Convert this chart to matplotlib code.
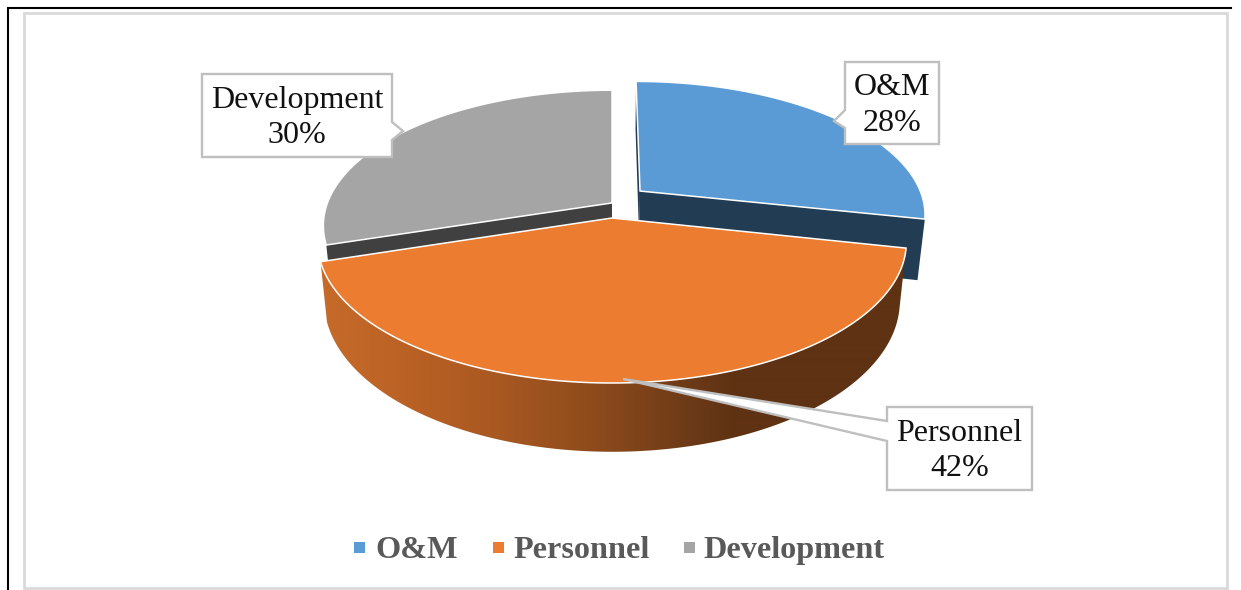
import numpy as np
import matplotlib
matplotlib.use("Agg")
import matplotlib.pyplot as plt
from matplotlib.colors import to_rgb
from matplotlib.patches import Polygon, Rectangle

# ---- data ----
categories = ["O&M", "Personnel", "Development"]
shares = [28.4, 41.7, 29.9]   # printed as 28%, 42%, 30%

# ---- style ----
top_colors = ["#5B9BD5", "#EB7C30", "#A5A5A5"]
side_colors = ["#223C54", "#5E3213", "#404040"]
explode = [(0.10, 0.204), (0.0, 0.0), (0.0, 0.112)]   # shift in the pie plane
CX, CY, RX, KY, PERSP, DEPTH, TAPER = 612, 218, 290, 136.8, 0.171, 57, 0.022
BOX_EDGE = "#BFBFBF"
SERIF = "Liberation Serif"

plt.rcParams["font.family"] = [SERIF, "DejaVu Serif"]
fig = plt.figure(figsize=(12.41, 5.90), dpi=100, facecolor="white")
ax = fig.add_axes([0, 0, 1, 1])


def project(theta_deg, radius, shift, z=0.0):
    """Pie-plane point (clockwise from 12 o'clock) to screen coordinates."""
    t = np.radians(theta_deg)
    X = radius * np.sin(t) + shift[0]
    Y = radius * np.cos(t) + shift[1]
    den = 1 + PERSP * Y
    return np.column_stack((CX + RX * X / den * (1 - TAPER * z),
                            CY - KY * Y / den + DEPTH * z / den))


def arc(a, b, shift, z=0.0, n=160):
    return project(np.linspace(a, b, n), np.ones(n), shift, z)


def apex(shift, z=0.0):
    return project(np.array([0.0]), np.zeros(1), shift, z)


cum = np.concatenate(([0], np.cumsum(shares))) / np.sum(shares) * 360
spans = list(zip(cum[:-1], cum[1:]))


def radial_face(angle, shift, color, zo, z=1.0):
    p = np.vstack((apex(shift), project(np.array([angle]), np.ones(1), shift),
                   project(np.array([angle]), np.ones(1), shift, z), apex(shift, z)))
    ax.add_patch(Polygon(p, closed=True, fc=color, ec="none", zorder=zo))


def top_face(i, zo):
    a, b = spans[i]
    p = np.vstack((apex(explode[i]), arc(a, b, explode[i])))
    ax.add_patch(Polygon(p, closed=True, fc=top_colors[i], ec="white", lw=1.1,
                         joinstyle="miter", zorder=zo))


# Personnel rim: horizontal shading clipped to the rim outline
grad_x = [320, 420, 500, 600, 680, 735, 910]
grad_hex = ["#C66B2A", "#B86024", "#A85821", "#8C4A1C", "#703C18", "#5E3213", "#5E3213"]
grad_rgb = np.array([to_rgb(c) for c in grad_hex])
xs = np.linspace(315, 915, 600)
strip = np.stack([np.interp(xs, grad_x, grad_rgb[:, k]) for k in range(3)], axis=-1)[None, :, :]
a, b = spans[1]
rim_outline = np.vstack((arc(a, b, explode[1], 0, 260), arc(a, b, explode[1], 1, 260)[::-1]))
rim_patch = Polygon(rim_outline, closed=True, fc="none", ec="none", transform=ax.transData)
ax.add_patch(rim_patch)
rim_img = ax.imshow(strip, extent=(315, 915, 460, 240), aspect="auto", zorder=7,
                    interpolation="bilinear")
rim_img.set_clip_path(rim_patch)

ax.set_xlim(0, 1241)
ax.set_ylim(590, 0)
ax.axis("off")

# Frame
ax.add_patch(Rectangle((23.5, 12.5), 1203, 575, fc="white", ec="#D9D9D9", lw=2, zorder=1))
ax.plot([8, 8, 1231], [590, 8, 8], color="black", lw=1.5, zorder=2, solid_joinstyle="miter")

# Development slice (back left)
radial_face(spans[2][0], explode[2], side_colors[2], 3)
top_face(2, 4)

# O&M slice (back right)
radial_face(spans[0][0], explode[0], side_colors[0], 5)
radial_face(spans[0][1], explode[0], side_colors[0], 5, z=1.07)
top_face(0, 6)

# Personnel top
top_face(1, 8)

# Callouts: box outline with a pointer, text in the box
callouts = [
    dict(box=(845, 62, 939, 144), tip=(834, 121), base=(110, 128), side="left"),
    dict(box=(887, 407, 1032, 490), tip=(623, 379), base=(421, 441), side="left"),
    dict(box=(202, 74, 392, 157), tip=(403, 131), base=(122, 140), side="right"),
]
for i, c in enumerate(callouts):
    x0, y0, x1, y1 = c["box"]
    b0, b1 = c["base"]
    if c["side"] == "left":
        pts = [(x0, y0), (x1, y0), (x1, y1), (x0, y1), (x0, b1), c["tip"], (x0, b0)]
    else:
        pts = [(x0, y0), (x1, y0), (x1, b0), c["tip"], (x1, b1), (x1, y1), (x0, y1)]
    ax.add_patch(Polygon(pts, closed=True, fc="white", ec=BOX_EDGE, lw=1.7,
                         joinstyle="miter", zorder=9))
    ax.text((x0 + x1) / 2, (y0 + y1) / 2 + 2.5, f"{categories[i]}\n{round(shares[i])}%",
            ha="center", va="center", fontsize=23, color="#111111",
            linespacing=1.3, zorder=10)

# Legend
legend_box_x = [354, 493, 684]
legend_text_x = [375, 513, 703]
for i, name in enumerate(categories):
    ax.add_patch(Rectangle((legend_box_x[i], 541.5), 10.5, 11, fc=top_colors[i], ec="none", zorder=3))
    ax.text(legend_text_x[i], 547, name, ha="left", va="center_baseline", fontsize=23.2,
            fontweight="bold", color="#595959", zorder=3)

fig.savefig("out.png", dpi=100, facecolor="white")
